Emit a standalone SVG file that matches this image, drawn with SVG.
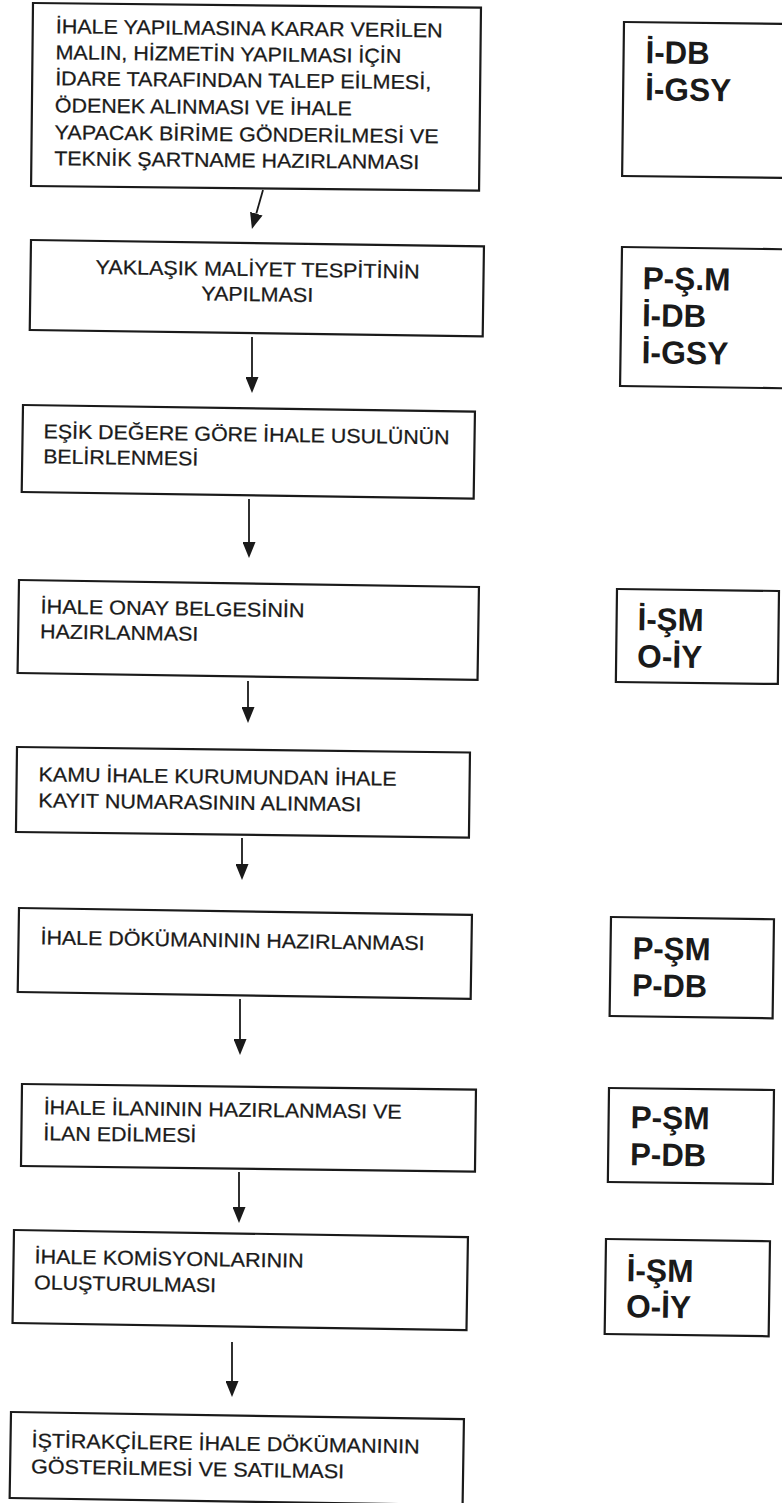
<svg xmlns="http://www.w3.org/2000/svg" width="782" height="1503" viewBox="0 0 782 1503">
<style>
.bx{fill:#fff;stroke:#1a1a1a;stroke-width:2.2}
.t{font-family:"Liberation Sans",Arial,sans-serif;font-size:20px;fill:#1a1a1a;stroke:#1a1a1a;stroke-width:0.25}
.b{font-family:"Liberation Sans",Arial,sans-serif;font-size:32px;font-weight:bold;fill:#1a1a1a}
.c{stroke:#1a1a1a;stroke-width:1.8;fill:none}
</style>
<defs>
<marker id="ah" markerUnits="userSpaceOnUse" markerWidth="16" markerHeight="13" refX="0" refY="6.5" orient="auto" viewBox="0 0 16 13">
<path d="M0,0 L16,6.5 L0,13 z" fill="#1a1a1a"/>
</marker>
</defs>
<rect width="782" height="1503" fill="#fff"/>

<g id="n1" transform="rotate(0.6 33 3)">
<rect class="bx" x="33" y="3" width="448" height="183"/>
<text class="t" x="56" y="33" textLength="387" lengthAdjust="spacingAndGlyphs">İHALE YAPILMASINA KARAR VERİLEN</text>
<text class="t" x="56" y="59" textLength="346" lengthAdjust="spacingAndGlyphs">MALIN, HİZMETİN YAPILMASI İÇİN</text>
<text class="t" x="56" y="85" textLength="376" lengthAdjust="spacingAndGlyphs">İDARE TARAFINDAN TALEP EİLMESİ,</text>
<text class="t" x="56" y="112" textLength="297" lengthAdjust="spacingAndGlyphs">ÖDENEK ALINMASI VE İHALE</text>
<text class="t" x="56" y="139" textLength="384" lengthAdjust="spacingAndGlyphs">YAPACAK BİRİME GÖNDERİLMESİ VE</text>
<text class="t" x="56" y="165" textLength="365" lengthAdjust="spacingAndGlyphs">TEKNİK ŞARTNAME HAZIRLANMASI</text>
</g>

<g id="r1" transform="rotate(0.7 624 22)">
<rect class="bx" x="624" y="22" width="180" height="154"/>
<text class="b" x="646" y="63" textLength="64" lengthAdjust="spacingAndGlyphs">İ-DB</text>
<text class="b" x="646" y="100" textLength="86" lengthAdjust="spacingAndGlyphs">İ-GSY</text>
</g>

<g id="n2" transform="rotate(0.8 31 240)">
<rect class="bx" x="31" y="240" width="453" height="90"/>
<text class="t" x="96" y="273" textLength="324" lengthAdjust="spacingAndGlyphs">YAKLAŞIK MALİYET TESPİTİNİN</text>
<text class="t" x="202" y="298" textLength="112" lengthAdjust="spacingAndGlyphs">YAPILMASI</text>
</g>

<g id="r2" transform="rotate(0.8 622 247)">
<rect class="bx" x="622" y="247" width="180" height="139"/>
<text class="b" x="643" y="289" textLength="88" lengthAdjust="spacingAndGlyphs">P-Ş.M</text>
<text class="b" x="643" y="326" textLength="64" lengthAdjust="spacingAndGlyphs">İ-DB</text>
<text class="b" x="643" y="363" textLength="87" lengthAdjust="spacingAndGlyphs">İ-GSY</text>
</g>

<g id="n3" transform="rotate(0.85 23 405)">
<rect class="bx" x="23" y="405" width="452" height="87"/>
<text class="t" x="44" y="438" textLength="406" lengthAdjust="spacingAndGlyphs">EŞİK DEĞERE GÖRE İHALE USULÜNÜN</text>
<text class="t" x="44" y="463" textLength="155" lengthAdjust="spacingAndGlyphs">BELİRLENMESİ</text>
</g>

<g id="n4" transform="rotate(0.87 19 580)">
<rect class="bx" x="19" y="580" width="460" height="93"/>
<text class="t" x="41" y="613" textLength="264" lengthAdjust="spacingAndGlyphs">İHALE ONAY BELGESİNİN</text>
<text class="t" x="41" y="638" textLength="158" lengthAdjust="spacingAndGlyphs">HAZIRLANMASI</text>
</g>

<g id="r4" transform="rotate(0.7 617 589)">
<rect class="bx" x="617" y="589" width="162" height="93"/>
<text class="b" x="638" y="630" textLength="66" lengthAdjust="spacingAndGlyphs">İ-ŞM</text>
<text class="b" x="638" y="667" textLength="65" lengthAdjust="spacingAndGlyphs">O-İY</text>
</g>

<g id="n5" transform="rotate(0.7 17 747)">
<rect class="bx" x="17" y="747" width="453" height="85"/>
<text class="t" x="39" y="781" textLength="358" lengthAdjust="spacingAndGlyphs">KAMU İHALE KURUMUNDAN İHALE</text>
<text class="t" x="39" y="807" textLength="323" lengthAdjust="spacingAndGlyphs">KAYIT NUMARASININ ALINMASI</text>
</g>

<g id="n6" transform="rotate(0.87 19 908)">
<rect class="bx" x="19" y="908" width="453" height="84"/>
<text class="t" x="41" y="944" textLength="384" lengthAdjust="spacingAndGlyphs">İHALE DÖKÜMANININ HAZIRLANMASI</text>
</g>

<g id="r6" transform="rotate(0.8 611 917)">
<rect class="bx" x="611" y="917" width="163" height="99"/>
<text class="b" x="633" y="959" textLength="78" lengthAdjust="spacingAndGlyphs">P-ŞM</text>
<text class="b" x="633" y="996" textLength="75" lengthAdjust="spacingAndGlyphs">P-DB</text>
</g>

<g id="n7" transform="rotate(0.7 22 1084)">
<rect class="bx" x="22" y="1084" width="454" height="82"/>
<text class="t" x="44" y="1114" textLength="358" lengthAdjust="spacingAndGlyphs">İHALE İLANININ HAZIRLANMASI VE</text>
<text class="t" x="44" y="1140" textLength="153" lengthAdjust="spacingAndGlyphs">İLAN EDİLMESİ</text>
</g>

<g id="r7" transform="rotate(0.7 609 1088)">
<rect class="bx" x="609" y="1088" width="165" height="94"/>
<text class="b" x="631" y="1128" textLength="79" lengthAdjust="spacingAndGlyphs">P-ŞM</text>
<text class="b" x="631" y="1165" textLength="76" lengthAdjust="spacingAndGlyphs">P-DB</text>
</g>

<g id="n8" transform="rotate(0.9 14 1230)">
<rect class="bx" x="14" y="1230" width="454" height="93"/>
<text class="t" x="35" y="1263" textLength="269" lengthAdjust="spacingAndGlyphs">İHALE KOMİSYONLARININ</text>
<text class="t" x="35" y="1289" textLength="182" lengthAdjust="spacingAndGlyphs">OLUŞTURULMASI</text>
</g>

<g id="r8" transform="rotate(0.8 606 1239)">
<rect class="bx" x="606" y="1239" width="164" height="95"/>
<text class="b" x="627" y="1281" textLength="67" lengthAdjust="spacingAndGlyphs">İ-ŞM</text>
<text class="b" x="627" y="1317" textLength="65" lengthAdjust="spacingAndGlyphs">O-İY</text>
</g>

<g id="n9" transform="rotate(0.9 11 1412)">
<rect class="bx" x="11" y="1412" width="453" height="86"/>
<text class="t" x="32" y="1447" textLength="388" lengthAdjust="spacingAndGlyphs">İŞTİRAKÇİLERE İHALE DÖKÜMANININ</text>
<text class="t" x="32" y="1473" textLength="313" lengthAdjust="spacingAndGlyphs">GÖSTERİLMESİ VE SATILMASI</text>
</g>

<g id="connectors">
<line class="c" x1="263" y1="190" x2="256.3" y2="213.6" marker-end="url(#ah)"/>
<line class="c" x1="252" y1="337" x2="252" y2="377" marker-end="url(#ah)"/>
<line class="c" x1="249" y1="499" x2="249" y2="542" marker-end="url(#ah)"/>
<line class="c" x1="248" y1="681" x2="248" y2="707" marker-end="url(#ah)"/>
<line class="c" x1="242" y1="838" x2="242" y2="864" marker-end="url(#ah)"/>
<line class="c" x1="240" y1="999" x2="240" y2="1039" marker-end="url(#ah)"/>
<line class="c" x1="239" y1="1172" x2="239" y2="1207" marker-end="url(#ah)"/>
<line class="c" x1="232" y1="1342" x2="232" y2="1381" marker-end="url(#ah)"/>
</g>
</svg>
